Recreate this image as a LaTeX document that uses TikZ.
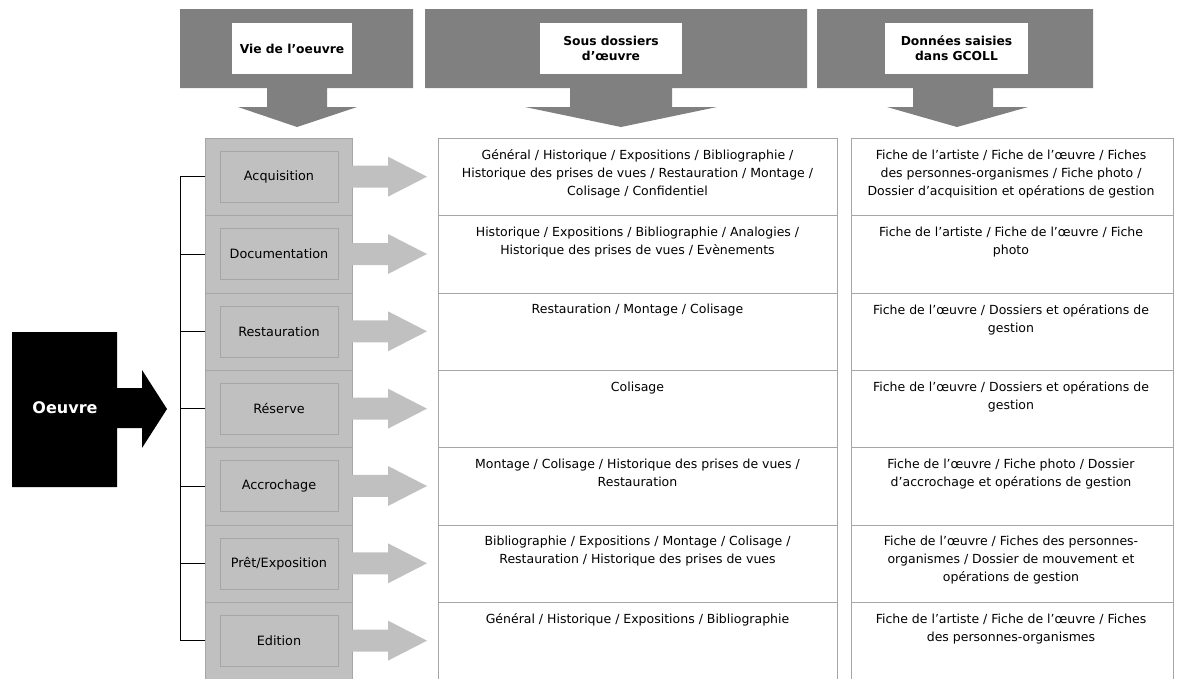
\documentclass[tikz,border=0pt]{standalone}
\usepackage{fontspec}
\setmainfont{DejaVu Sans}
\definecolor{hdr}{HTML}{808080}
\definecolor{lg}{HTML}{C0C0C0}
\definecolor{bd}{HTML}{A6A6A6}
\begin{document}
\begin{tikzpicture}[x=1pt,y=-1pt,
 hlabel/.style={fill=white,inner sep=0,align=center,minimum height=51pt,font=\bfseries\fontsize{12.3}{15}\selectfont},
 lcell/.style={draw=bd,fill=lg,minimum width=147pt,minimum height=77.33pt,inner sep=0,anchor=north west},
 ibox/.style={draw=bd,fill=lg,minimum width=118pt,minimum height=51pt,inner sep=0,font=\fontsize{12.8}{14}\selectfont},
 tcell/.style={draw=bd,fill=white,minimum height=77.33pt,inner sep=0,anchor=north west},
 ttext/.style={anchor=north,inner sep=0,align=center,font=\fontsize{12.5}{18}\selectfont},
 bracket/.style={draw=black,line width=0.9pt}]
\useasboundingbox (0,0) rectangle (1178,678);
\clip (0,0) rectangle (1178,678);
% header arrows
\fill[hdr] (180,9) -- (413,9) -- (413,88) -- (327,88) -- (327,107) -- (357,107) -- (297,127) -- (238,107) -- (267,107) -- (267,88) -- (180,88) -- cycle;
\fill[hdr] (425,9) -- (807,9) -- (807,88) -- (672,88) -- (672,107) -- (717,107) -- (621,127) -- (525,107) -- (570,107) -- (570,88) -- (425,88) -- cycle;
\fill[hdr] (817,9) -- (1093,9) -- (1093,88) -- (993,88) -- (993,107) -- (1028,107) -- (957,127) -- (887,107) -- (913,107) -- (913,88) -- (817,88) -- cycle;
\node[hlabel,minimum width=120pt] (h1) at (292,48.5) {Vie de l’oeuvre};
\node[hlabel,minimum width=142pt] (h2) at (611,48.5) {Sous dossiers\\d’œuvre};
\node[hlabel,minimum width=143pt] (h3) at (956.5,48.5) {Données saisies\\dans GCOLL};
% left column
\foreach \i/\lab in {1/Acquisition,2/Documentation,3/Restauration,4/Réserve,5/Accrochage,6/Prêt\slash Exposition,7/Edition}{
  \pgfmathsetmacro\t{138+77.33*(\i-1)}
  \pgfmathsetmacro\c{\t+38.67}
  \node[lcell] (c\i) at (205,\t) {};
  \node[ibox] (b\i) at (279,\c) {\lab};
  \fill[lg] (352,{\c-11}) -- (388,{\c-11}) -- (388,{\c-20}) -- (427,\c) -- (388,{\c+20}) -- (388,{\c+11}) -- (352,{\c+11}) -- cycle;
  \node[tcell,minimum width=399pt] (s\i) at (438,\t) {};
  \node[tcell,minimum width=322pt] (d\i) at (851,\t) {};
}
% bracket
\coordinate (bx) at (180,0);
\draw[bracket] (c1.west) -- (c1.west -| bx) -- (c7.west -| bx) -- (c7.west);
\foreach \i in {2,...,6}{\draw[bracket] (c\i.west) -- (c\i.west -| bx);}
% Oeuvre arrow
\fill[black] (12,332) -- (117,332) -- (117,388) -- (142,388) -- (142,370) -- (167,409) -- (142,448) -- (142,428) -- (117,428) -- (117,487) -- (12,487) -- cycle;
\node[text=white,font=\bfseries\fontsize{16}{18}\selectfont] (oeuvre) at (65,408) {Oeuvre};
% column 2 texts
\node[ttext] (st1) at (637.5,149.5) {Général / Historique / Expositions / Bibliographie /\\Historique des prises de vues / Restauration / Montage /\\Colisage / Confidentiel};
\node[ttext] (st2) at (637.5,226.83) {Historique / Expositions / Bibliographie / Analogies /\\Historique des prises de vues / Evènements};
\node[ttext] (st3) at (637.5,304.17) {Restauration / Montage / Colisage};
\node[ttext] (st4) at (637.5,381.5) {Colisage};
\node[ttext] (st5) at (637.5,458.83) {Montage / Colisage / Historique des prises de vues /\\Restauration};
\node[ttext] (st6) at (637.5,536.17) {Bibliographie / Expositions / Montage / Colisage /\\Restauration / Historique des prises de vues};
\node[ttext] (st7) at (637.5,613.5) {Général / Historique / Expositions / Bibliographie};
% column 3 texts
\node[ttext] (dt1) at (1011,149.5) {Fiche de l’artiste / Fiche de l’œuvre / Fiches\\des personnes-organismes / Fiche photo /\\Dossier d’acquisition et opérations de gestion};
\node[ttext] (dt2) at (1011,226.83) {Fiche de l’artiste / Fiche de l’œuvre / Fiche\\photo};
\node[ttext] (dt3) at (1011,304.17) {Fiche de l’œuvre / Dossiers et opérations de\\gestion};
\node[ttext] (dt4) at (1011,381.5) {Fiche de l’œuvre / Dossiers et opérations de\\gestion};
\node[ttext] (dt5) at (1011,458.83) {Fiche de l’œuvre / Fiche photo / Dossier\\d’accrochage et opérations de gestion};
\node[ttext] (dt6) at (1011,536.17) {Fiche de l’œuvre / Fiches des personnes-\\organismes / Dossier de mouvement et\\opérations de gestion};
\node[ttext] (dt7) at (1011,613.5) {Fiche de l’artiste / Fiche de l’œuvre / Fiches\\des personnes-organismes};
\end{tikzpicture}
\end{document}
